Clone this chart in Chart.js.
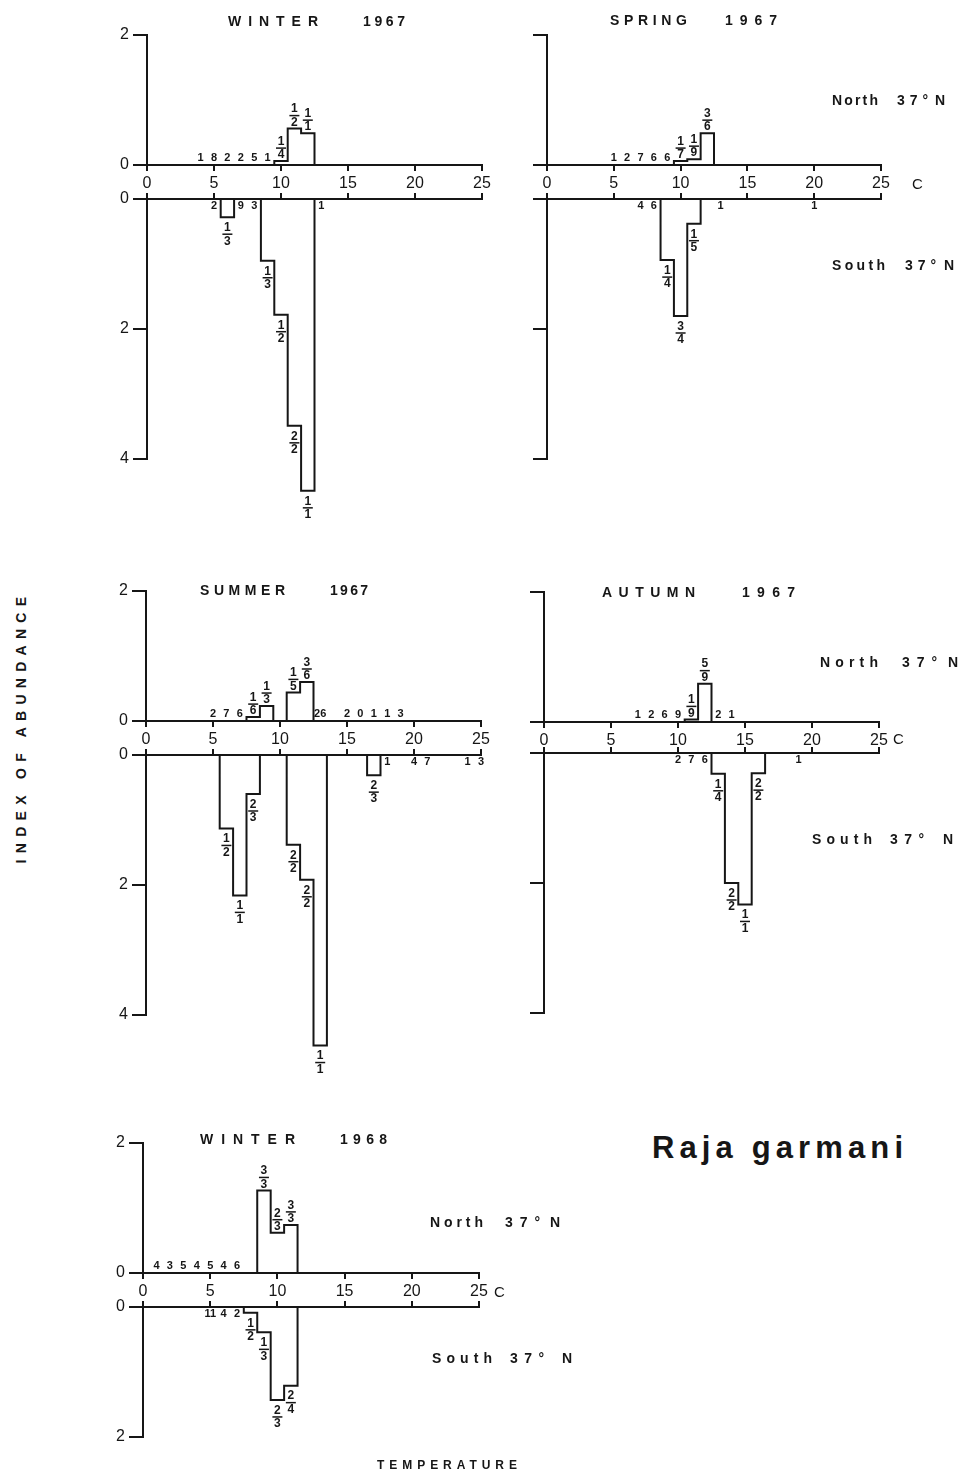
<!DOCTYPE html>
<html>
<head>
<meta charset="utf-8">
<script src="https://cdn.jsdelivr.net/npm/chart.js@4.4.0/dist/chart.umd.min.js"></script>
<style>
  html, body { margin: 0; padding: 0; background: #fff; }
  #page { position: relative; width: 967px; height: 1475px; overflow: hidden; background: #fff; }
  #page canvas { position: absolute; }
  .t { position: absolute; color: #161616; white-space: pre; line-height: 1; }
</style>
</head>
<body>
<div id="page"></div>
<script>
// Raja garmani: index of abundance by bottom temperature, north and south of 37 N
// bins are 1 C wide, centred on the whole degree
// "a/b" = stations with the species / stations sampled, a plain number = stations with none

// WINTER 1967
var w67NorthTemp  = [4, 5, 6, 7, 8, 9, 10, 11, 12];
var w67NorthIndex = [0, 0, 0, 0, 0, 0, 0.06, 0.56, 0.49];
var w67NorthLabel = ['1', '8', '2', '2', '5', '1', '1/4', '1/2', '1/1'];
var w67SouthTemp  = [5, 6, 7, 8, 9, 10, 11, 12, 13];
var w67SouthIndex = [0, 0.28, 0, 0, 0.95, 1.78, 3.49, 4.49, 0];
var w67SouthLabel = ['2', '1/3', '9', '3', '1/3', '1/2', '2/2', '1/1', '1'];

// SPRING 1967
var s67NorthTemp  = [5, 6, 7, 8, 9, 10, 11, 12];
var s67NorthIndex = [0, 0, 0, 0, 0, 0.06, 0.09, 0.49];
var s67NorthLabel = ['1', '2', '7', '6', '6', '1/7', '1/9', '3/6'];
var s67SouthTemp  = [7, 8, 9, 10, 11, 13, 20];
var s67SouthIndex = [0, 0, 0.94, 1.8, 0.38, 0, 0];
var s67SouthLabel = ['4', '6', '1/4', '3/4', '1/5', '1', '1'];

// SUMMER 1967
var su67NorthTemp  = [5, 6, 7, 8, 9, 11, 12, 13, 15, 16, 17, 18, 19];
var su67NorthIndex = [0, 0, 0, 0.06, 0.23, 0.44, 0.6, 0, 0, 0, 0, 0, 0];
var su67NorthLabel = ['2', '7', '6', '1/6', '1/3', '1/5', '3/6', '26', '2', '0', '1', '1', '3'];
var su67SouthTemp  = [6, 7, 8, 11, 12, 13, 17, 18, 20, 21, 24, 25];
var su67SouthIndex = [1.13, 2.16, 0.6, 1.38, 1.92, 4.47, 0.31, 0, 0, 0, 0, 0];
var su67SouthLabel = ['1/2', '1/1', '2/3', '2/2', '2/2', '1/1', '2/3', '1', '4', '7', '1', '3'];

// AUTUMN 1967
var a67NorthTemp  = [7, 8, 9, 10, 11, 12, 13, 14];
var a67NorthIndex = [0, 0, 0, 0, 0.04, 0.59, 0, 0];
var a67NorthLabel = ['1', '2', '6', '9', '1/9', '5/9', '2', '1'];
var a67SouthTemp  = [10, 11, 12, 13, 14, 15, 16, 19];
var a67SouthIndex = [0, 0, 0, 0.32, 2.0, 2.33, 0.31, 0];
var a67SouthLabel = ['2', '7', '6', '1/4', '2/2', '1/1', '2/2', '1'];

// WINTER 1968
var w68NorthTemp  = [1, 2, 3, 4, 5, 6, 7, 9, 10, 11];
var w68NorthIndex = [0, 0, 0, 0, 0, 0, 0, 1.27, 0.62, 0.74];
var w68NorthLabel = ['4', '3', '5', '4', '5', '4', '6', '3/3', '2/3', '3/3'];
var w68SouthTemp  = [5, 6, 7, 8, 9, 10, 11];
var w68SouthIndex = [0, 0, 0, 0.09, 0.39, 1.43, 1.21];
var w68SouthLabel = ['11', '4', '2', '1/2', '1/3', '2/3', '2/4'];

var FONT = '"Liberation Sans", Arial, sans-serif';
var INK = '#161616';
var YW = 40, RP = 14, TOP = 14, XT = 10, UNIT = 65;
var page = document.getElementById('page');

// where each panel sits on the page
var panels = [
  {x0: 147, x25: 482, yN: 165, yS: 199, sMax: 4, below: 75, yLabels: true,
   n: [w67NorthTemp, w67NorthIndex, w67NorthLabel], s: [w67SouthTemp, w67SouthIndex, w67SouthLabel]},
  {x0: 547, x25: 881, yN: 165, yS: 199, sMax: 4, below: 40, yLabels: false,
   n: [s67NorthTemp, s67NorthIndex, s67NorthLabel], s: [s67SouthTemp, s67SouthIndex, s67SouthLabel]},
  {x0: 146, x25: 481, yN: 721, yS: 755, sMax: 4, below: 75, yLabels: true,
   n: [su67NorthTemp, su67NorthIndex, su67NorthLabel], s: [su67SouthTemp, su67SouthIndex, su67SouthLabel]},
  {x0: 544, x25: 879, yN: 722, yS: 753, sMax: 4, below: 40, yLabels: false,
   n: [a67NorthTemp, a67NorthIndex, a67NorthLabel], s: [a67SouthTemp, a67SouthIndex, a67SouthLabel]},
  {x0: 143, x25: 479, yN: 1273, yS: 1307, sMax: 2, below: 40, yLabels: true,
   n: [w68NorthTemp, w68NorthIndex, w68NorthLabel], s: [w68SouthTemp, w68SouthIndex, w68SouthLabel]}
];

// step outline of the 1-degree bins, from first to last occupied bin
function outline(temps, index) {
  var occ = temps.filter(function (t, i) { return index[i] > 0; });
  if (!occ.length) return [];
  var lo = Math.min.apply(null, occ), hi = Math.max.apply(null, occ);
  var pts = [{x: lo - 0.5, y: 0}];
  for (var t = lo; t <= hi; t++) {
    var i = temps.indexOf(t);
    pts.push({x: t - 0.5, y: i >= 0 ? index[i] : 0});
  }
  pts.push({x: hi + 0.5, y: 0});
  return pts;
}

// station counts along the baseline, fractions at the end of each bar
function labelPlugin(temps, index, labels, dir) {
  return {
    id: 'binLabels',
    afterDatasetsDraw: function (chart) {
      var ctx = chart.ctx, xs = chart.scales.x, ys = chart.scales.y;
      var base = ys.getPixelForValue(0);
      ctx.save();
      ctx.fillStyle = INK;
      ctx.strokeStyle = INK;
      ctx.textAlign = 'center';
      ctx.textBaseline = 'middle';
      temps.forEach(function (t, i) {
        var px = xs.getPixelForValue(t), lab = labels[i];
        if (lab.indexOf('/') < 0) {
          ctx.font = 'bold 11px ' + FONT;
          ctx.fillText(lab, px, base + dir * 7);
          return;
        }
        var f = lab.split('/');
        var end = ys.getPixelForValue(index[i]);
        var mid = dir < 0 ? end - 13 : end + 17;
        ctx.font = 'bold 12px ' + FONT;
        ctx.fillText(f[0], px, mid - 6.5);
        ctx.fillText(f[1], px, mid + 7);
        ctx.lineWidth = 1.5;
        ctx.beginPath();
        ctx.moveTo(px - 5, mid);
        ctx.lineTo(px + 5, mid);
        ctx.stroke();
      });
      ctx.restore();
    }
  };
}

function addCanvas(left, top, w, h) {
  var c = document.createElement('canvas');
  c.width = w; c.height = h;
  c.style.left = left + 'px'; c.style.top = top + 'px';
  c.style.width = w + 'px'; c.style.height = h + 'px';
  page.appendChild(c);
  return c;
}

function drawHalf(p, series, south) {
  var temps = series[0], index = series[1], labels = series[2];
  var w = p.x25 - p.x0 + YW + RP;
  var xh = p.yS - p.yN;
  var max = south ? p.sMax : 2;
  var top, h, pad;
  if (south) {
    top = p.yS - XT; h = XT + UNIT * max + p.below;
    pad = {top: 0, right: RP, bottom: p.below, left: 0};
  } else {
    top = p.yN - UNIT * 2 - TOP; h = TOP + UNIT * 2 + xh;
    pad = {top: TOP, right: RP, bottom: 0, left: 0};
  }
  var cv = addCanvas(p.x0 - YW, top, w, h);
  new Chart(cv, {
    type: 'line',
    data: {
      datasets: [{
        data: outline(temps, index),
        stepped: 'before',
        borderColor: INK,
        borderWidth: 2,
        pointRadius: 0,
        fill: false,
        clip: false
      }]
    },
    options: {
      responsive: false,
      animation: false,
      devicePixelRatio: 1,
      layout: {padding: pad},
      plugins: {legend: {display: false}, tooltip: {enabled: false}},
      scales: {
        x: {
          type: 'linear', position: south ? 'top' : 'bottom', min: 0, max: 25,
          ticks: {display: !south, stepSize: 5, padding: 3, maxRotation: 0, color: INK, font: {family: FONT, size: 16}},
          grid: {drawOnChartArea: false, color: INK, lineWidth: 2, tickLength: 6},
          border: {color: INK, width: 2},
          afterFit: function (s) { s.height = south ? XT : xh; s.paddingLeft = 0; s.paddingRight = 0; }
        },
        y: {
          type: 'linear', min: 0, max: max, reverse: south,
          ticks: {display: p.yLabels, stepSize: 2, padding: 4, color: INK, font: {family: FONT, size: 16}},
          grid: {drawOnChartArea: false, color: INK, lineWidth: 2, tickLength: 14},
          border: {color: INK, width: 2},
          afterFit: function (s) { s.width = YW; s.paddingTop = 0; s.paddingBottom = 0; }
        }
      }
    },
    plugins: [labelPlugin(temps, index, labels, south ? 1 : -1)]
  });
}

panels.forEach(function (p) {
  drawHalf(p, p.n, false);
  drawHalf(p, p.s, true);
});

// text, spread out to the width it has in the figure
var meas = document.createElement('canvas').getContext('2d');
function text(str, x1, x2, yc, size, weight) {
  var font = (weight || 'normal') + ' ' + size + 'px ' + FONT;
  meas.font = font;
  var ls = str.length > 1 ? ((x2 - x1) - meas.measureText(str).width) / (str.length - 1) : 0;
  var d = document.createElement('div');
  d.className = 't';
  d.textContent = str;
  d.style.font = font;
  d.style.lineHeight = '1';
  d.style.letterSpacing = ls + 'px';
  d.style.left = x1 + 'px';
  d.style.top = (yc - 0.49 * size) + 'px';
  page.appendChild(d);
  return d;
}

// panel titles
text('WINTER', 228, 318, 21, 14, 'bold'); text('1967', 363, 405, 21, 14, 'bold');
text('SPRING', 610, 687, 20, 14, 'bold'); text('1967', 725, 777, 20, 14, 'bold');
text('SUMMER', 200, 285, 590, 14, 'bold'); text('1967', 330, 368, 590, 14, 'bold');
text('AUTUMN', 602, 695, 592, 14, 'bold'); text('1967', 742, 795, 592, 14, 'bold');
text('WINTER', 200, 295, 1139, 14, 'bold'); text('1968', 340, 387, 1139, 14, 'bold');

// north / south of 37 N
function side(word, wx1, wx2, dx1, dx2, nx, yc) {
  text(word, wx1, wx2, yc, 14, 'bold');
  text('37°', dx1, dx2, yc, 14, 'bold');
  text('N', nx, nx, yc, 14, 'bold');
}
side('North', 832, 878, 897, 928, 935, 100);
side('South', 832, 885, 905, 936, 944, 265);
side('North', 820, 878, 902, 937, 948, 662);
side('South', 812, 872, 890, 924, 943, 839);
side('North', 430, 483, 505, 540, 550, 1222);
side('South', 432, 492, 510, 544, 562, 1358);

// temperature unit
text('C', 912, 912, 183, 15);
text('C', 893, 893, 738, 15);
text('C', 494, 494, 1291, 15);

text('Raja garmani', 652, 903, 1147, 31, 'bold');
text('TEMPERATURE', 377, 517, 1465, 12, 'bold');

var yt = text('INDEX OF ABUNDANCE', 0, 267, 0, 14, 'bold');
yt.style.left = (18 - 133.5) + 'px';
yt.style.top = (727 - 7) + 'px';
yt.style.transformOrigin = '50% 50%';
yt.style.transform = 'rotate(-90deg)';
</script>
</body>
</html>
